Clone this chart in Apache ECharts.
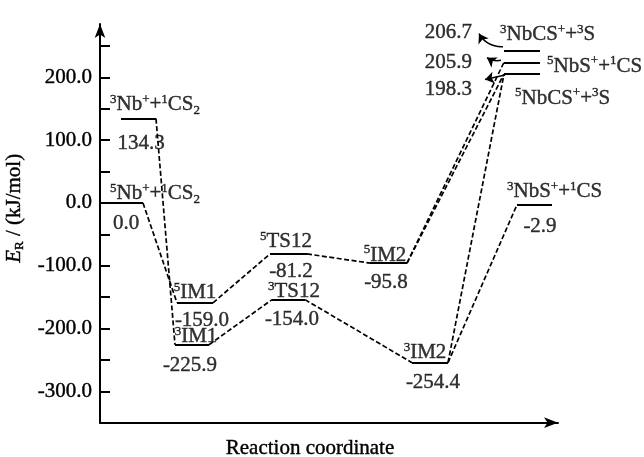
<!DOCTYPE html>
<html><head><meta charset="utf-8">
<script src="https://cdn.jsdelivr.net/npm/echarts@6/dist/echarts.min.js"></script>
<style>html,body{margin:0;padding:0;background:#fff}#c{width:644px;height:457px}</style>
</head><body><div id="c"></div>
<script>
// ---------- data ----------
const levelNames = [
  '{sup|5}Nb{sup|+}+{sup|1}CS{sub|2}',
  '{sup|3}Nb{sup|+}+{sup|1}CS{sub|2}',
  '{sup|5}IM1',
  '{sup|3}IM1',
  '{sup|5}TS12',
  '{sup|3}TS12',
  '{sup|5}IM2',
  '{sup|3}IM2',
  '{sup|3}NbCS{sup|+}+{sup|3}S',
  '{sup|5}NbS{sup|+}+{sup|1}CS',
  '{sup|5}NbCS{sup|+}+{sup|3}S',
  '{sup|3}NbS{sup|+}+{sup|1}CS'
];
// relative energies (kJ/mol) printed on the diagram
const energies = [0.0, 134.3, -159.0, -225.9, -81.2, -154.0, -95.8, -254.4, 206.7, 205.9, 198.3, -2.9];
// heights at which the levels are drawn; the reference spreads the three
// nearly equal product levels apart so they can be told apart
const drawnE   = [0.0, 134.3, -159.0, -225.9, -81.2, -154.0, -95.8, -254.4, 242.5, 224.0, 205.3, -2.9];
// reaction-coordinate extent of every level
const coordStart = [1.0, 2.1, 7.7, 7.5, 17.0, 17.2, 27.0, 31.2, 40.4, 40.4, 40.4, 41.7];
const coordEnd   = [4.3, 5.6, 11.3, 10.9, 20.7, 20.5, 30.7, 34.8, 44.0, 44.0, 44.0, 45.2];
// dashed connections (from level, to level)
const links = [[0,2],[1,3],[2,4],[3,5],[4,6],[5,7],[6,9],[6,10],[7,10],[7,11]];
// levels whose value is written to the left with a pointer arrow
const arrowLevels = [8, 9, 10];
const yTickValues = [-300,-250,-200,-150,-100,-50,0,50,100,150,200,250];
const yLabelValues = [-300,-200,-100,0,100,200];

// ---------- layout (pixel offsets from each level's left end) ----------
const nameLayout = [
  [0,-9,'left'], [-11,-14,'left'], [18,-10,'center'], [21,-8,'center'],
  [16,-12,'center'], [22,-8,'center'], [15,-8,'center'], [13,-10,'center'],
  [-4,-16,'left'], [43,4,'left'], [11,24,'left'], [-10,-13,'left']
];
const valueLayout = [
  [16,21,'center'], [20,25,'center'], [25,18,'center'], [15,21,'center'],
  [21,18,'center'], [20,20,'center'], [16,19,'center'], [21,20,'center'],
  [-32,-18,'right'], [-32,0,'right'], [-32,15,'right'], [23,22,'center']
];
const arrowLayout = {
  8:  {from:[-1,-4], to:[-25,-17], curve:0.3},
  9:  {from:[-3,-2], to:[-17,-4.5], curve:0.2},
  10: {from:[1,1],   to:[-19,5.5], curve:0}
};

const FONT = 'Liberation Serif';
const INK = {color: '#000', textBorderColor: '#000', textBorderWidth: 0.4};
const rich = {
  sup: Object.assign({fontSize: 13, fontFamily: FONT, verticalAlign: 'top', lineHeight: 24}, INK),
  sub: Object.assign({fontSize: 13, fontFamily: FONT, verticalAlign: 'bottom', lineHeight: 24}, INK)
};

const chart = echarts.init(document.getElementById('c'), null, {renderer: 'canvas'});

const levelLines = energies.map((e, i) => ({coords: [[coordStart[i], drawnE[i]], [coordEnd[i], drawnE[i]]]}));
const linkLines = links.map(([a, b]) => ({coords: [[coordEnd[a], drawnE[a]], [coordStart[b], drawnE[b]]]}));

const nameItems = levelNames.map((n, i) => ({
  value: [coordStart[i], drawnE[i]],
  label: {formatter: n, offset: [nameLayout[i][0], nameLayout[i][1]], align: nameLayout[i][2]}
}));
const valueItems = energies.map((e, i) => ({
  value: [coordStart[i], drawnE[i]],
  label: {formatter: e.toFixed(1), offset: [valueLayout[i][0], valueLayout[i][1]], align: valueLayout[i][2]}
}));

const labelBase = Object.assign({
  show: true, position: 'inside', verticalAlign: 'middle',
  fontSize: 21, fontFamily: FONT, lineHeight: 24, rich: rich
}, INK);

const option = {
  animation: false,
  backgroundColor: '#fff',
  textStyle: {fontFamily: FONT},
  grid: {left: 100, right: 86, top: 24, bottom: 34.3, outerBoundsMode: 'none'},
  xAxis: {
    type: 'value', min: 0, max: 45.8,
    name: 'Reaction coordinate', nameLocation: 'middle', nameGap: 15,
    nameTextStyle: Object.assign({fontSize: 21, fontFamily: FONT, padding: [0, 38, 0, 0]}, INK),
    axisLine: {show: true, onZero: false, symbol: ['none', 'arrow'], symbolSize: [8, 14],
      lineStyle: {color: '#000', width: 2}},
    axisTick: {show: false}, axisLabel: {show: false}, splitLine: {show: false}
  },
  yAxis: {
    type: 'value', min: -350, max: 285,
    name: '{i|E}{s|R} / (kJ/mol)', nameLocation: 'middle', nameRotate: 90, nameGap: 54,
    nameTextStyle: Object.assign({fontSize: 21, fontFamily: FONT, padding: [0, 0, 0, 30],
      rich: {
        i: Object.assign({fontSize: 21, fontFamily: FONT, fontStyle: 'italic', lineHeight: 24}, INK),
        s: Object.assign({fontSize: 13, fontFamily: FONT, verticalAlign: 'bottom', lineHeight: 24}, INK)
      }}, INK),
    axisLine: {show: true, onZero: false, symbol: ['none', 'arrow'], symbolSize: [8, 14],
      lineStyle: {color: '#000', width: 2}},
    axisTick: {show: true, inside: true, length: 10, customValues: yTickValues,
      lineStyle: {color: '#000', width: 2}},
    axisLabel: Object.assign({show: true, customValues: yLabelValues, margin: 8,
      formatter: v => v.toFixed(1), fontSize: 21, fontFamily: FONT}, INK),
    splitLine: {show: false}
  },
  series: [
    {type: 'lines', coordinateSystem: 'cartesian2d', polyline: false, silent: true,
      lineStyle: {color: '#000', width: 2, opacity: 1, type: 'solid'}, data: levelLines, z: 3},
    {type: 'lines', coordinateSystem: 'cartesian2d', polyline: false, silent: true,
      lineStyle: {color: '#000', width: 1.7, opacity: 1, type: [5, 2.5]}, data: linkLines, z: 2},
    {type: 'scatter', symbolSize: 0, silent: true, label: labelBase, data: nameItems, z: 5},
    {type: 'scatter', symbolSize: 0, silent: true, label: labelBase, data: valueItems, z: 5}
  ]
};
chart.setOption(option);

// pointer arrows from the product levels to their values, placed via the axis scales
const arrowData = arrowLevels.map(i => {
  const p = chart.convertToPixel({gridIndex: 0}, [coordStart[i], drawnE[i]]);
  const L = arrowLayout[i];
  const a = chart.convertFromPixel({gridIndex: 0}, [p[0] + L.from[0], p[1] + L.from[1]]);
  const b = chart.convertFromPixel({gridIndex: 0}, [p[0] + L.to[0], p[1] + L.to[1]]);
  return {coords: [a, b], lineStyle: {curveness: L.curve}};
});
chart.setOption({series: [{}, {}, {}, {},
  {type: 'lines', coordinateSystem: 'cartesian2d', polyline: false, silent: true,
    symbol: ['none', 'arrow'], symbolSize: 9,
    lineStyle: {color: '#000', width: 1.6, opacity: 1}, data: arrowData, z: 4}
]});
</script></body></html>
